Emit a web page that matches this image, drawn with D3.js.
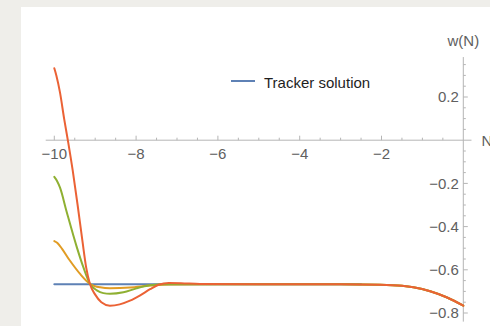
<!DOCTYPE html>
<html>
<head>
<meta charset="utf-8">
<script src="https://cdn.jsdelivr.net/npm/d3@7"></script>
<style>
  html, body { margin: 0; padding: 0; background: #efeeea; }
  svg { display: block; }
  text { font-family: "Liberation Sans", Arial, sans-serif; }
</style>
</head>
<body>
<svg id="chart" width="490" height="326"></svg>
<script>
// ---- data ----
const xTicks = [-10, -8, -6, -4, -2];
const xTickLabels = ["−10", "−8", "−6", "−4", "−2"];
const yTicks = [0.2, -0.2, -0.4, -0.6, -0.8];
const yTickLabels = ["0.2", "−0.2", "−0.4", "−0.6", "−0.8"];
const xLabel = "N";
const yLabel = "w(N)";
const legendLabel = "Tracker solution";

const blueN = [-10, -2.5];
const blueW = [-0.667, -0.667];

const yellowN = [-10, -9.93, -9.86, -9.62, -9.37, -9.13, -8.88, -8.64, -8.15, -7.66, -7.2, -6, -3, -2.04, -1.5, -1.22, -0.81, -0.41, 0];
const yellowW = [-0.467, -0.475, -0.490, -0.557, -0.619, -0.665, -0.681, -0.685, -0.682, -0.673, -0.668, -0.667, -0.667, -0.669, -0.674, -0.681, -0.699, -0.727, -0.766];

const greenN = [-10, -9.93, -9.86, -9.70, -9.45, -9.29, -9.13, -8.96, -8.8, -8.64, -8.31, -7.99, -7.66, -7.3, -6, -3, -2.04, -1.5, -1.22, -0.81, -0.41, 0];
const greenW = [-0.170, -0.19, -0.22, -0.33, -0.495, -0.588, -0.665, -0.695, -0.708, -0.711, -0.704, -0.686, -0.672, -0.667, -0.667, -0.667, -0.669, -0.674, -0.681, -0.699, -0.727, -0.766];

const redN = [-10, -9.95, -9.86, -9.76, -9.66, -9.55, -9.43, -9.31, -9.22, -9.13, -9.0, -8.85, -8.64, -8.4, -8.15, -7.9, -7.66, -7.45, -7.2, -6.9, -6.44, -5, -3, -2.04, -1.5, -1.22, -0.81, -0.41, 0];
const redW = [0.333, 0.30, 0.22, 0.10, -0.01, -0.14, -0.30, -0.47, -0.59, -0.665, -0.715, -0.750, -0.766, -0.760, -0.743, -0.718, -0.690, -0.669, -0.661, -0.662, -0.666, -0.667, -0.667, -0.669, -0.674, -0.681, -0.699, -0.727, -0.766];

const series = [
  { n: blueN, w: blueW, color: "#5E81B5" },
  { n: yellowN, w: yellowW, color: "#E19C24" },
  { n: greenN, w: greenW, color: "#8FB032" },
  { n: redN, w: redW, color: "#EB6235" }
];

// ---- layout ----
const svg = d3.select("#chart");
svg.append("rect").attr("x", 21).attr("y", 7).attr("width", 469).attr("height", 319).attr("fill", "#ffffff");

const x = d3.scaleLinear().domain([-10, 0]).range([54.3, 463.3]);
const y = d3.scaleLinear().domain([0.2, -0.8]).range([97, 313]);

const axisColor = "#b5b5b5";
const labelColor = "#606060";

// x axis line
svg.append("line")
  .attr("x1", x(-10.21)).attr("x2", x(0.2))
  .attr("y1", y(0)).attr("y2", y(0))
  .attr("stroke", axisColor).attr("stroke-width", 1);
// y axis line
svg.append("line")
  .attr("x1", x(0)).attr("x2", x(0))
  .attr("y1", y(0.385)).attr("y2", y(-0.84))
  .attr("stroke", axisColor).attr("stroke-width", 1);

// x ticks (minor every 0.5, major every 2)
const xMinor = d3.range(-10, 0.01, 0.5).filter(v => Math.abs(v) > 1e-9);
svg.append("g").selectAll("line").data(xMinor).join("line")
  .attr("x1", d => x(d)).attr("x2", d => x(d))
  .attr("y1", y(0)).attr("y2", d => y(0) - (xTicks.some(t => Math.abs(t - d) < 1e-9) ? 4.5 : 2.5))
  .attr("stroke", axisColor).attr("stroke-width", 1);

// y ticks (minor every 0.05)
const yMinor = d3.range(-0.8, 0.36, 0.05).filter(v => Math.abs(v) > 1e-9);
svg.append("g").selectAll("line").data(yMinor).join("line")
  .attr("x1", x(0)).attr("x2", d => x(0) + (yTicks.some(t => Math.abs(t - d) < 1e-9) ? 4.5 : 2.5))
  .attr("y1", d => y(d)).attr("y2", d => y(d))
  .attr("stroke", axisColor).attr("stroke-width", 1);

// x tick labels
svg.append("g").selectAll("text").data(xTicks).join("text")
  .attr("x", d => x(d)).attr("y", y(0) + 19)
  .attr("text-anchor", "middle")
  .attr("font-size", 15).attr("fill", labelColor)
  .text((d, i) => xTickLabels[i]);

// y tick labels
svg.append("g").selectAll("text").data(yTicks).join("text")
  .attr("x", x(0) - 4.5).attr("y", d => y(d) + 5.3)
  .attr("text-anchor", "end")
  .attr("font-size", 15).attr("fill", labelColor)
  .text((d, i) => yTickLabels[i]);

// axis labels
svg.append("text").attr("x", x(0)).attr("y", 46).attr("text-anchor", "middle")
  .attr("font-size", 15).attr("fill", labelColor).text(yLabel);
svg.append("text").attr("x", 481.5).attr("y", y(0) + 5.4).attr("text-anchor", "start")
  .attr("font-size", 15).attr("fill", labelColor).text(xLabel);

// curves
const line = d3.line().x(d => x(d[0])).y(d => y(d[1])).curve(d3.curveMonotoneX);
series.forEach(s => {
  svg.append("path")
    .datum(s.n.map((v, i) => [v, s.w[i]]))
    .attr("d", line)
    .attr("fill", "none")
    .attr("stroke", s.color)
    .attr("stroke-width", 2)
    .attr("stroke-linejoin", "round")
    .attr("stroke-linecap", "round");
});

// legend
svg.append("line").attr("x1", 231).attr("x2", 255).attr("y1", 81).attr("y2", 81)
  .attr("stroke", "#5E81B5").attr("stroke-width", 2);
svg.append("text").attr("x", 264).attr("y", 88).attr("font-size", 15).attr("fill", "#1e1e1e")
  .text(legendLabel);
</script>
</body>
</html>
